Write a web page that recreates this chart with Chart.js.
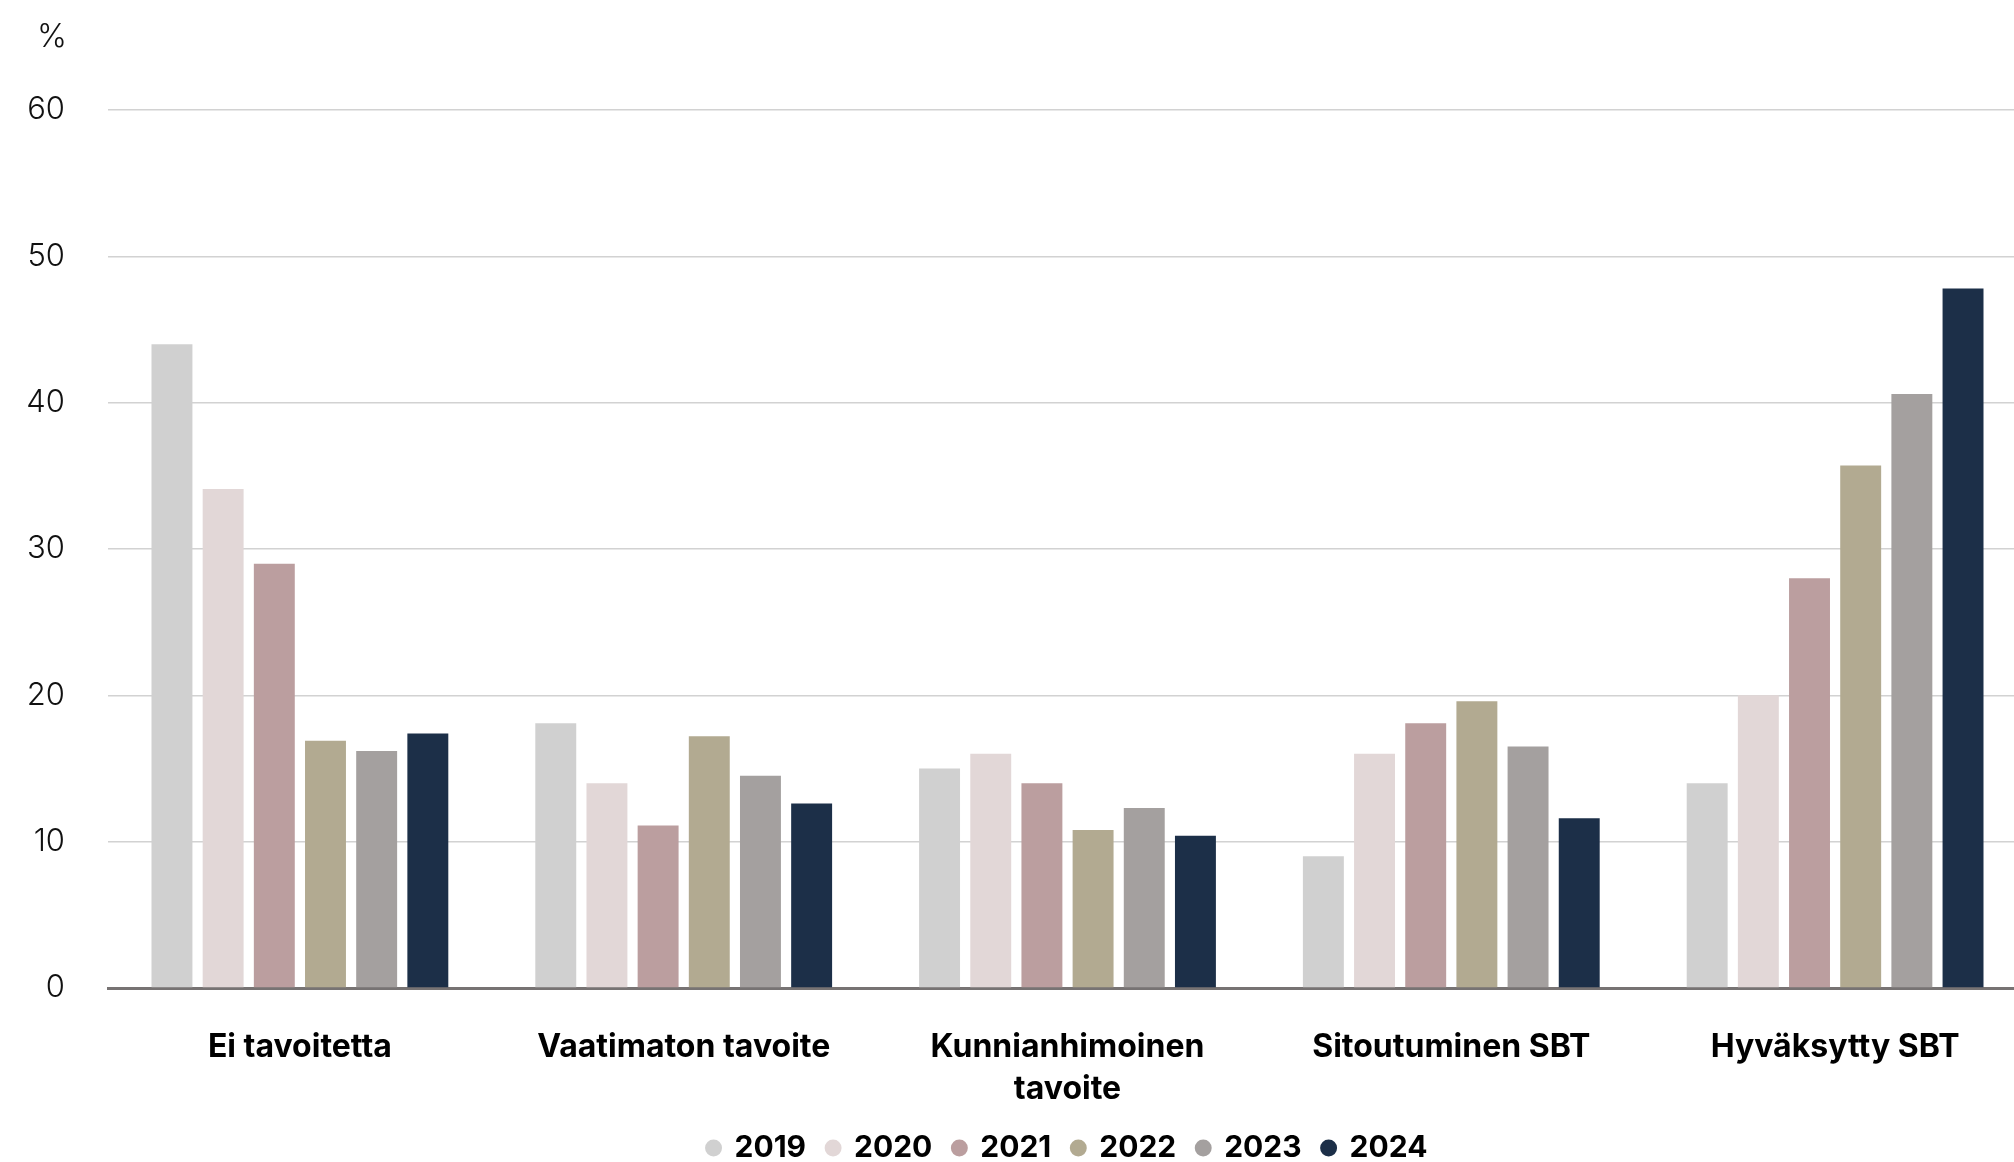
<!DOCTYPE html>
<html>
<head>
<meta charset="utf-8">
<script src="https://cdn.jsdelivr.net/npm/chart.js@4/dist/chart.umd.min.js"></script>
<style>
	html, body { margin: 0; padding: 0; background: #fff; overflow: hidden; }
	/* the plot runs a little past the right edge of the picture, like the original */
	#wrap { width: 2027px; height: 1173px; position: relative; }
</style>
</head>
<body>
<div id="wrap"><canvas id="mycanvas"></canvas></div>
<script>
var categories = ["Ei tavoitetta", "Vaatimaton tavoite", ["Kunnianhimoinen", "tavoite"], "Sitoutuminen SBT", "Hyväksytty SBT"];
var years = ["2019", "2020", "2021", "2022", "2023", "2024"];
var v2019 = [44.0, 18.1, 15.0, 9.0, 14.0];
var v2020 = [34.1, 14.0, 16.0, 16.0, 20.0];
var v2021 = [29.0, 11.1, 14.0, 18.1, 28.0];
var v2022 = [16.9, 17.2, 10.8, 19.6, 35.7];
var v2023 = [16.2, 14.5, 12.3, 16.5, 40.6];
var v2024 = [17.4, 12.6, 10.4, 11.6, 47.8];
var yTicks = [0, 10, 20, 30, 40, 50, 60];
var unitLabel = "%";

var colors = ["#d0d0d0", "#e2d7d7", "#bb9e9f", "#b2aa91", "#a4a09f", "#1c2f48"];
var series = [v2019, v2020, v2021, v2022, v2023, v2024];

var datasets = [];
for (var i in years) {
	datasets.push({
		label: years[i],
		data: series[i],
		backgroundColor: colors[i],
		borderWidth: 0,
		barPercentage: 0.8,
		categoryPercentage: 0.8
	});
}

// draws the "%" unit above the y axis labels
var unitPlugin = {
	id: "unit",
	afterDraw: function(chart) {
		var y = chart.scales.y;
		var ctx = chart.ctx;
		ctx.save();
		ctx.font = "300 32px Inter";
		ctx.fillStyle = "#111";
		ctx.textAlign = "right";
		ctx.textBaseline = "middle";
		ctx.fillText(unitLabel, y.right - 41, 37);
		ctx.restore();
	}
};

var ctx = document.getElementById("mycanvas");

var BarGraph = new Chart(ctx, {
	type: "bar",
	data: { labels: categories, datasets: datasets },
	plugins: [unitPlugin],
	options: {
		responsive: true,
		maintainAspectRatio: false,
		animation: false,
		layout: { padding: { left: 0, right: 0, top: 110, bottom: 0 } },
		plugins: {
			tooltip: { enabled: false },
			legend: {
				position: "bottom",
				fullSize: false,
				labels: {
					usePointStyle: true,
					pointStyle: "circle",
					boxWidth: 12,
					boxHeight: 12,
					padding: 21,
					color: "#000",
					font: { family: "Inter", weight: "700", size: 30 }
				}
			}
		},
		scales: {
			x: {
				grid: { display: false, drawTicks: false },
				border: { display: true, color: "#777373", width: 3 },
				ticks: {
					padding: 38,
					color: "#000",
					maxRotation: 0,
					autoSkip: false,
					font: { family: "Inter", weight: "700", size: 32, lineHeight: 1.33 }
				},
				afterFit: function(axis) {
					axis.height = 124;
				}
			},
			y: {
				min: 0,
				max: 60,
				afterBuildTicks: function(axis) {
					axis.ticks = yTicks.map(function(v) { return { value: v }; });
				},
				grid: { color: "#d2d2d2", lineWidth: 1.5, drawTicks: false },
				border: { display: false },
				ticks: {
					padding: 43,
					color: "#111",
					font: { family: "Inter", weight: "300", size: 31 }
				},
				afterFit: function(axis) {
					axis.width = 108;
				}
			}
		}
	}
});
</script>
</body>
</html>
